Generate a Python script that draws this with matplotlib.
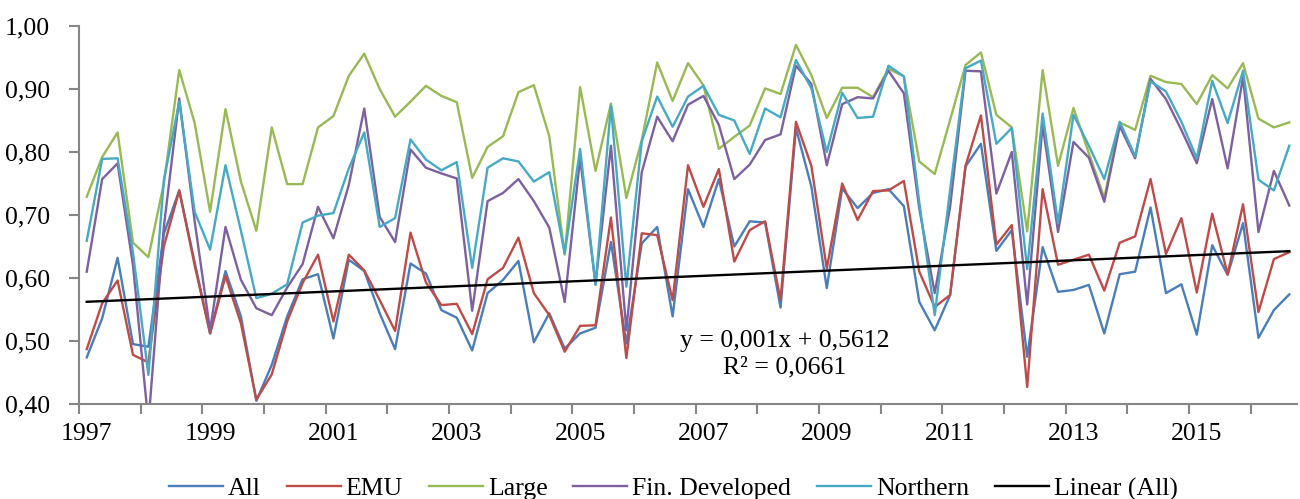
import matplotlib
matplotlib.use("Agg")
import matplotlib.pyplot as plt
import numpy as np

# quarterly values, 1997Q1 - 2016Q3
years = [str(y) for y in range(1997, 2017, 2)]

all_c = [0.474, 0.536, 0.632, 0.495, 0.491, 0.670, 0.739, 0.625, 0.512, 0.611,
         0.539, 0.405, 0.462, 0.539, 0.598, 0.606, 0.504, 0.629, 0.611, 0.544,
         0.487, 0.623, 0.607, 0.549, 0.537, 0.485, 0.576, 0.597, 0.627, 0.498,
         0.544, 0.488, 0.512, 0.521, 0.657, 0.496, 0.655, 0.681, 0.539, 0.741,
         0.681, 0.757, 0.650, 0.690, 0.688, 0.553, 0.838, 0.745, 0.584, 0.742,
         0.711, 0.735, 0.741, 0.714, 0.562, 0.517, 0.573, 0.777, 0.813, 0.643,
         0.676, 0.475, 0.649, 0.578, 0.581, 0.589, 0.512, 0.606, 0.610, 0.712,
         0.576, 0.590, 0.510, 0.652, 0.605, 0.687, 0.505, 0.549, 0.574]
emu = [0.487, 0.560, 0.596, 0.478, 0.466, 0.650, 0.739, 0.620, 0.512, 0.603,
       0.528, 0.407, 0.447, 0.531, 0.592, 0.637, 0.531, 0.637, 0.612, 0.565,
       0.516, 0.672, 0.593, 0.557, 0.559, 0.511, 0.598, 0.616, 0.664, 0.576,
       0.541, 0.483, 0.524, 0.525, 0.696, 0.473, 0.671, 0.668, 0.565, 0.779,
       0.713, 0.773, 0.626, 0.676, 0.690, 0.565, 0.848, 0.778, 0.615, 0.750,
       0.692, 0.738, 0.739, 0.754, 0.610, 0.554, 0.573, 0.778, 0.858, 0.653,
       0.684, 0.427, 0.741, 0.621, 0.629, 0.637, 0.580, 0.656, 0.666, 0.757,
       0.638, 0.695, 0.577, 0.702, 0.606, 0.717, 0.546, 0.630, 0.641]
large = [0.729, 0.792, 0.831, 0.656, 0.633, 0.750, 0.930, 0.846, 0.705, 0.868,
         0.753, 0.675, 0.839, 0.749, 0.749, 0.839, 0.857, 0.921, 0.956, 0.900,
         0.856, 0.880, 0.905, 0.889, 0.879, 0.759, 0.808, 0.825, 0.895, 0.906,
         0.825, 0.637, 0.903, 0.770, 0.877, 0.727, 0.819, 0.942, 0.881, 0.941,
         0.906, 0.805, 0.824, 0.842, 0.901, 0.892, 0.970, 0.922, 0.854, 0.902,
         0.902, 0.887, 0.932, 0.920, 0.785, 0.765, 0.851, 0.938, 0.958, 0.859,
         0.839, 0.674, 0.930, 0.778, 0.870, 0.798, 0.727, 0.847, 0.835, 0.921,
         0.911, 0.908, 0.876, 0.922, 0.901, 0.941, 0.853, 0.839, 0.847]
fin_dev = [0.610, 0.757, 0.782, 0.620, 0.370, 0.681, 0.885, 0.690, 0.517, 0.681,
           0.597, 0.552, 0.541, 0.585, 0.622, 0.713, 0.663, 0.748, 0.869, 0.697,
           0.657, 0.804, 0.775, 0.766, 0.758, 0.548, 0.722, 0.735, 0.757, 0.722,
           0.680, 0.562, 0.790, 0.590, 0.810, 0.517, 0.768, 0.856, 0.817, 0.875,
           0.889, 0.843, 0.757, 0.780, 0.819, 0.828, 0.937, 0.908, 0.779, 0.876,
           0.887, 0.885, 0.929, 0.893, 0.710, 0.576, 0.713, 0.929, 0.928, 0.734,
           0.800, 0.558, 0.843, 0.673, 0.816, 0.791, 0.721, 0.841, 0.790, 0.916,
           0.884, 0.835, 0.782, 0.884, 0.774, 0.919, 0.673, 0.770, 0.715]
northern = [0.659, 0.789, 0.790, 0.640, 0.446, 0.755, 0.880, 0.705, 0.645, 0.779,
            0.675, 0.568, 0.575, 0.590, 0.688, 0.699, 0.703, 0.774, 0.831, 0.681,
            0.695, 0.820, 0.788, 0.771, 0.784, 0.616, 0.775, 0.790, 0.785, 0.753,
            0.768, 0.639, 0.805, 0.589, 0.873, 0.586, 0.817, 0.888, 0.840, 0.888,
            0.905, 0.859, 0.850, 0.797, 0.869, 0.855, 0.946, 0.901, 0.800, 0.894,
            0.854, 0.856, 0.937, 0.920, 0.720, 0.541, 0.740, 0.933, 0.945, 0.813,
            0.838, 0.614, 0.861, 0.687, 0.859, 0.810, 0.757, 0.848, 0.793, 0.912,
            0.896, 0.848, 0.790, 0.913, 0.846, 0.929, 0.756, 0.739, 0.810]

series = [("All", all_c, "#4A7EBB"),
          ("EMU", emu, "#BE4B48"),
          ("Large", large, "#98B954"),
          ("Fin. Developed", fin_dev, "#7D60A0"),
          ("Northern", northern, "#46AAC5")]

# trend line as printed on the chart (x = 1, 2, ...)
slope, intercept = 0.00103, 0.5612

plt.rcParams['font.family'] = ['Liberation Serif', 'DejaVu Serif']

fig = plt.figure(figsize=(13, 4.99), dpi=100)
ax = fig.add_axes([0.0608, 0.1904, 0.9369, 0.7575])

x = np.arange(len(all_c))
for name, vals, col in series:
    ax.plot(x, vals, color=col, lw=1.7, label=name)
ax.plot(x, intercept + slope * (x + 1), color="black", lw=1.7, label="Linear (All)")

ax.set_xlim(-0.5, len(all_c) - 0.5)
ax.set_ylim(0.40, 1.00)

ax.set_yticks(np.arange(0.4, 1.001, 0.1))
ax.set_yticklabels([f"{v:.2f}".replace(".", ",") for v in np.arange(0.4, 1.001, 0.1)])

# labels every 8 quarters, tick marks between years
ax.set_xticks(np.arange(0, len(all_c), 8))
ax.set_xticklabels(years)
ax.set_xticks(np.arange(-0.5, len(all_c) - 1, 4), minor=True)
ax.tick_params(axis="x", which="major", length=0, pad=14)
ax.tick_params(axis="x", which="minor", length=7, width=1.5, color="#868686")
ax.tick_params(axis="y", length=7, width=1.5, color="#868686", pad=14)
ax.tick_params(labelsize=18.5)

for side in ["top", "right"]:
    ax.spines[side].set_visible(False)
for side in ["left", "bottom"]:
    ax.spines[side].set_color("#868686")
    ax.spines[side].set_linewidth(1.5)

fig.text(785 / 1300, 1 - 341 / 499, "y = 0,001x + 0,5612", ha="center", va="center", fontsize=18.5)
fig.text(785 / 1300, 1 - 367 / 499, "R² = 0,0661", ha="center", va="center", fontsize=18.5)

fig.legend(loc="center", bbox_to_anchor=(0.518, 1 - 489 / 499), ncol=6, frameon=False,
           fontsize=18.5, handlelength=2.1, handletextpad=0.2, columnspacing=1.0)

fig.savefig("out.png", dpi=100)
